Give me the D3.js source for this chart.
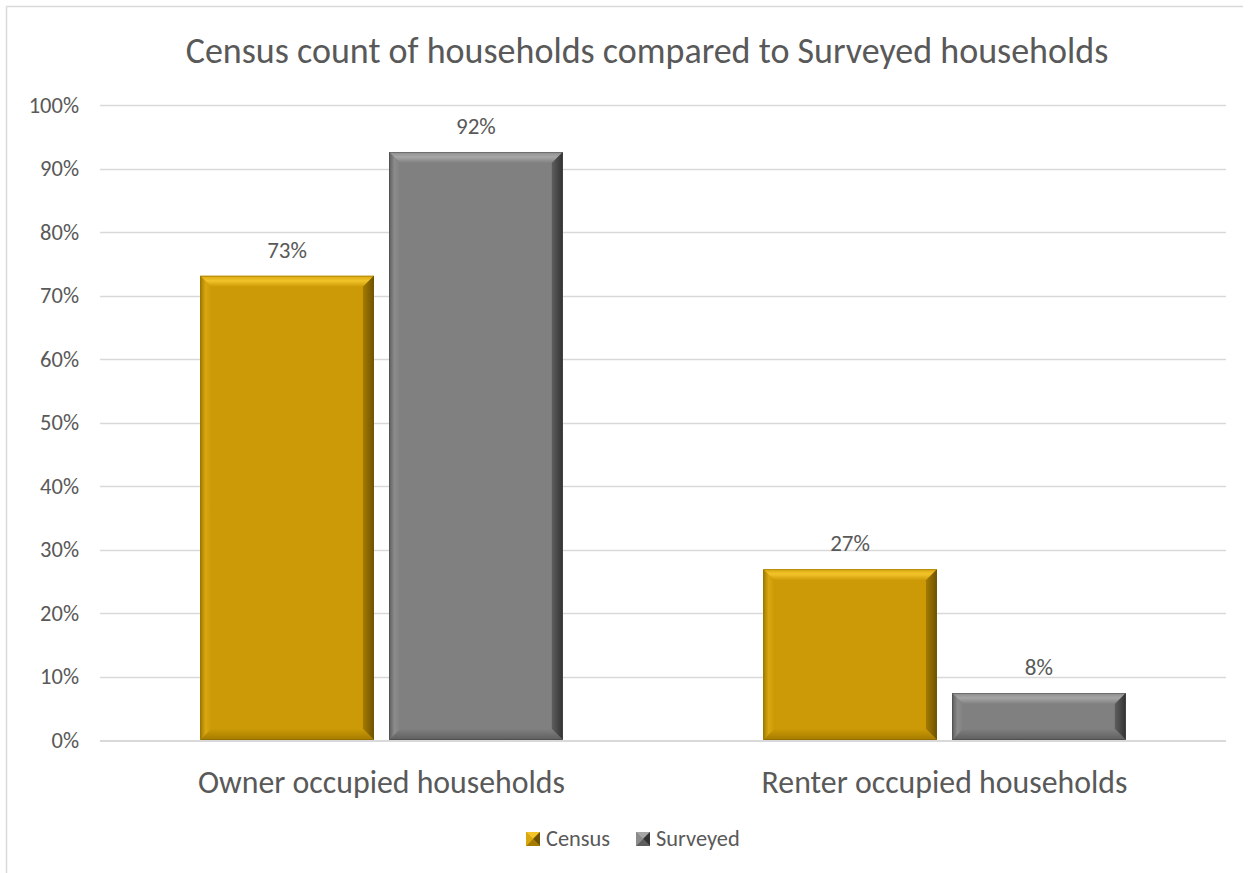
<!DOCTYPE html>
<html>
<head>
<meta charset="utf-8">
<script src="https://cdn.jsdelivr.net/npm/d3@7"></script>
<style>
  html, body { margin: 0; padding: 0; background: #ffffff; }
  svg { display: block; }
  text { font-family: Carlito, Calibri, Lato, "Open Sans", sans-serif; fill: #595959; }
</style>
</head>
<body>
<svg id="chart" width="1253" height="873"></svg>
<script>
// Household tenure shares
const categories = ["Owner occupied households", "Renter occupied households"];
const seriesNames = ["Census", "Surveyed"];
const censusValues = [0.731, 0.269];
const surveyedValues = [0.926, 0.074];
const valueLabels = [["73%", "92%"], ["27%", "8%"]];
const yTicks = [0, 0.1, 0.2, 0.3, 0.4, 0.5, 0.6, 0.7, 0.8, 0.9, 1.0];
const titleText = "Census count of households compared to Surveyed households";

const palette = {
  Census: { base: "#CC9A06", light: "#F2C42A", mid: "#D9A810", dark: "#6E5200", side: "#A47B00" },
  Surveyed: { base: "#808080", light: "#A6A6A6", mid: "#8C8C8C", dark: "#333333", side: "#5E5E5E" }
};

const svg = d3.select("#chart");
const W = 1253, H = 873;
const plot = { left: 100, right: 1226, top: 105, bottom: 740 };

// outer frame
svg.append("line").attr("x1", 6.5).attr("y1", 6.5).attr("x2", 1243).attr("y2", 6.5)
  .attr("stroke", "#d9d9d9").attr("stroke-width", 1.5);
svg.append("line").attr("x1", 6.5).attr("y1", 6.5).attr("x2", 6.5).attr("y2", H)
  .attr("stroke", "#d9d9d9").attr("stroke-width", 1.5);

const y = d3.scaleLinear().domain([0, 1]).range([plot.bottom, plot.top]);
const x0 = d3.scaleBand().domain(categories).range([plot.left, plot.right]);
const outer = x0.bandwidth() * 0.178;
const x1 = d3.scaleBand().domain(seriesNames).range([outer, x0.bandwidth() - outer]).paddingInner(0.08).paddingOuter(0);

// gridlines
svg.append("g").selectAll("line").data(yTicks.filter(d => d > 0)).join("line")
  .attr("x1", plot.left).attr("x2", plot.right)
  .attr("y1", d => Math.round(y(d)) + 0.5).attr("y2", d => Math.round(y(d)) + 0.5)
  .attr("stroke", "#d9d9d9").attr("stroke-width", 1.5);

// y axis labels
const yAxis = d3.axisLeft(y).tickValues(yTicks).tickFormat(d3.format(".0%")).tickSize(0).tickPadding(21);
const yg = svg.append("g").attr("transform", `translate(${plot.left},0)`).call(yAxis);
yg.select(".domain").remove();
yg.selectAll("text").attr("font-size", 22.5).style("fill", "#595959")
  .style("font-family", "Carlito, Calibri, Lato, 'Open Sans', sans-serif");

// bars with bevelled edges
const rows = [];
categories.forEach((c, i) => {
  rows.push({ cat: c, series: "Census", value: censusValues[i], label: valueLabels[i][0] });
  rows.push({ cat: c, series: "Surveyed", value: surveyedValues[i], label: valueLabels[i][1] });
});

const defs = svg.append("defs");
seriesNames.forEach(s => {
  const p = palette[s];
  const gTop = defs.append("linearGradient").attr("id", "top-" + s).attr("x1", 0).attr("y1", 0).attr("x2", 0).attr("y2", 1);
  gTop.append("stop").attr("offset", 0).attr("stop-color", p.mid);
  gTop.append("stop").attr("offset", 0.45).attr("stop-color", p.light);
  gTop.append("stop").attr("offset", 1).attr("stop-color", p.base);
  const gRight = defs.append("linearGradient").attr("id", "right-" + s).attr("x1", 0).attr("y1", 0).attr("x2", 1).attr("y2", 0);
  gRight.append("stop").attr("offset", 0).attr("stop-color", p.side);
  gRight.append("stop").attr("offset", 1).attr("stop-color", p.dark);
  const gLeft = defs.append("linearGradient").attr("id", "left-" + s).attr("x1", 0).attr("y1", 0).attr("x2", 1).attr("y2", 0);
  gLeft.append("stop").attr("offset", 0).attr("stop-color", p.side);
  gLeft.append("stop").attr("offset", 0.5).attr("stop-color", p.mid);
  gLeft.append("stop").attr("offset", 1).attr("stop-color", p.base);
  const gBot = defs.append("linearGradient").attr("id", "bot-" + s).attr("x1", 0).attr("y1", 0).attr("x2", 0).attr("y2", 1);
  gBot.append("stop").attr("offset", 0).attr("stop-color", p.base);
  gBot.append("stop").attr("offset", 1).attr("stop-color", p.side);
});

const bevel = 11;
const barG = svg.append("g");
rows.forEach(r => {
  const bx = x0(r.cat) + x1(r.series);
  const bw = x1.bandwidth();
  const by = y(r.value);
  const bh = y(0) - by;
  const b = Math.min(bevel, bh / 2, bw / 2);
  const g = barG.append("g");
  const L = bx, R = bx + bw, T = by, B = by + bh;
  g.append("rect").attr("x", L).attr("y", T).attr("width", bw).attr("height", bh).attr("fill", palette[r.series].base);
  const poly = (pts, fill) => g.append("polygon").attr("points", pts.map(p => p.join(",")).join(" ")).attr("fill", fill);
  poly([[L, T], [R, T], [R - b, T + b], [L + b, T + b]], `url(#top-${r.series})`);
  poly([[L, T], [L + b, T + b], [L + b, B - b], [L, B]], `url(#left-${r.series})`);
  poly([[R, T], [R, B], [R - b, B - b], [R - b, T + b]], `url(#right-${r.series})`);
  poly([[L, B], [L + b, B - b], [R - b, B - b], [R, B]], `url(#bot-${r.series})`);
  g.append("rect").attr("x", L + 0.5).attr("y", T + 0.5).attr("width", bw - 1).attr("height", bh - 1)
    .attr("fill", "none").attr("stroke", palette[r.series].dark).attr("stroke-opacity", 0.35);

  // value label
  svg.append("text").attr("x", bx + bw / 2).attr("y", by - 18)
    .attr("text-anchor", "middle").attr("font-size", 23).text(r.label);
});

// baseline
svg.append("line").attr("x1", plot.left).attr("x2", plot.right)
  .attr("y1", plot.bottom + 1).attr("y2", plot.bottom + 1)
  .attr("stroke", "#d9d9d9").attr("stroke-width", 2);

// category labels
svg.append("g").selectAll("text").data(categories).join("text")
  .attr("x", d => x0(d) + x0.bandwidth() / 2).attr("y", 793)
  .attr("text-anchor", "middle").attr("font-size", 31.8).text(d => d);

// title
svg.append("text").attr("x", 647).attr("y", 63).attr("text-anchor", "middle")
  .attr("font-size", 36).text(titleText);

// legend
const legend = svg.append("g");
const legendItems = [{ name: "Census", x: 526 }, { name: "Surveyed", x: 636 }];
legendItems.forEach(it => {
  const p = palette[it.name];
  const sx = it.x, sy = 832, s = 14;
  const lg = legend.append("g");
  lg.append("rect").attr("x", sx).attr("y", sy).attr("width", s).attr("height", s).attr("fill", p.base);
  const tri = (pts, fill) => lg.append("polygon").attr("points", pts.map(q => q.join(",")).join(" ")).attr("fill", fill);
  const c = [sx + s / 2, sy + s / 2];
  tri([[sx, sy], [sx + s, sy], c], p.light);
  tri([[sx + s, sy], [sx + s, sy + s], c], p.dark);
  tri([[sx, sy + s], [sx + s, sy + s], c], p.side);
  tri([[sx, sy], [sx, sy + s], c], p.mid);
  lg.append("text").attr("x", sx + s + 6).attr("y", sy + s).attr("font-size", 22.4).text(it.name);
});
</script>
</body>
</html>
